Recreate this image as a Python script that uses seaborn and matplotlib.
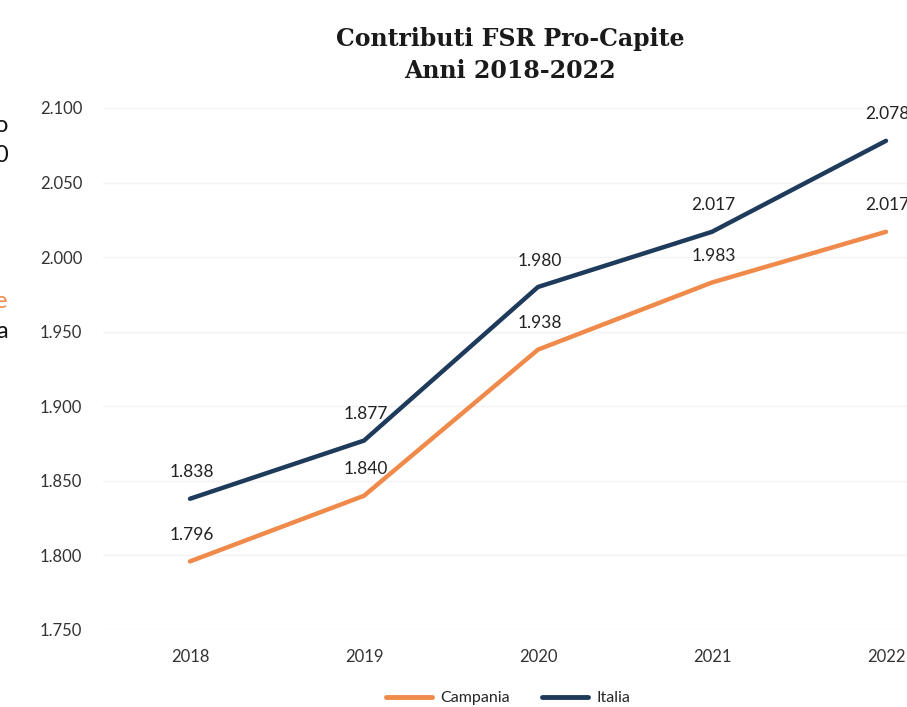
import matplotlib
matplotlib.use("Agg")
import matplotlib.pyplot as plt
import seaborn as sns
import pandas as pd
from matplotlib.ticker import FuncFormatter
from matplotlib.lines import Line2D

years = ["2018", "2019", "2020", "2021", "2022"]
campania = [1796, 1840, 1938, 1983, 2017]
italia = [1838, 1877, 1980, 2017, 2078]
series_names = ["Campania", "Italia"]
colors = {"Campania": "#F08A4B", "Italia": "#1F3B5C"}
title = "Contributi FSR Pro-Capite\nAnni 2018-2022"
yticks = [1750, 1800, 1850, 1900, 1950, 2000, 2050, 2100]

df = pd.DataFrame({
    "Anno": years * 2,
    "x": list(range(len(years))) * 2,
    "Valore": campania + italia,
    "Serie": ["Campania"] * len(years) + ["Italia"] * len(years),
})

sns.set_theme(style="white")
plt.rcParams["font.family"] = ["Lato", "DejaVu Sans"]

W, H = 907, 707
fig = plt.figure(figsize=(W / 100, H / 100), dpi=100)
ax_left = 103 / W
ax_bottom = (H - 630) / H
ax_w = 870 / W
ax_h = 522 / H
ax = fig.add_axes([ax_left, ax_bottom, ax_w, ax_h])

sns.lineplot(data=df, x="x", y="Valore", hue="Serie", palette=colors,
             linewidth=3.2, ax=ax, legend=False, sort=False)
for line in ax.lines:
    line.set_solid_capstyle("round")
    line.set_solid_joinstyle("round")

fmt = lambda v: f"{v:,.0f}".replace(",", ".")
for name, vals in (("Campania", campania), ("Italia", italia)):
    for i, v in enumerate(vals):
        ax.annotate(fmt(v), (i, v), xytext=(1, 19), textcoords="offset points",
                    ha="center", va="center", fontsize=12.5, color="#222222",
                    annotation_clip=False)

ax.set_xlim(-0.5, 4.5)
ax.set_ylim(1750, 2100)
ax.set_yticks(yticks)
ax.yaxis.set_major_formatter(FuncFormatter(lambda v, p: fmt(v)))
ax.set_xticks(range(len(years)))
ax.set_xticklabels(years)
ax.tick_params(axis="both", length=0, labelsize=12, colors="#333333")
ax.tick_params(axis="x", pad=14)
ax.tick_params(axis="y", pad=15)
ax.grid(axis="y", color="#f3f3f3", linewidth=1)
ax.set_xlabel("")
ax.set_ylabel("")
for s in ax.spines.values():
    s.set_visible(False)

fig.text(510 / W, 1 - 55 / H, title, ha="center", va="center",
         fontsize=17, fontweight="bold", family=["DejaVu Serif"],
         color="#1a1a1a", linespacing=1.45)

handles = [Line2D([0], [0], color=colors[n], lw=3.5) for n in series_names]
fig.legend(handles, series_names, loc="center", bbox_to_anchor=(508 / W, 9 / H),
           ncol=2, frameon=False, fontsize=11.5, handlelength=2.9,
           columnspacing=2.0, handletextpad=0.5)

# fragments of adjacent text cut off at the left edge
for ch, y, c in (("o", 126, "#111111"), ("0", 156, "#111111"),
                 ("e", 302, "#F08A4B"), ("a", 332, "#111111")):
    fig.text(8 / W, 1 - y / H, ch, ha="right", va="center", fontsize=17, color=c)

fig.savefig("out.png", dpi=100)
